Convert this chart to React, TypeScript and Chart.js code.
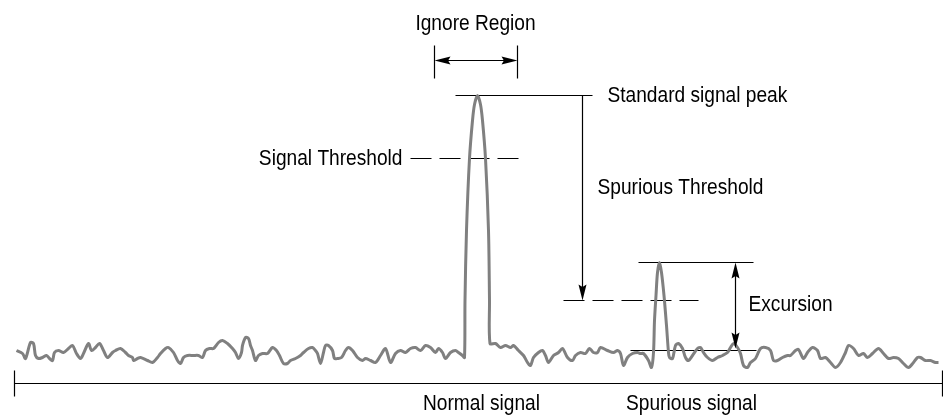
import React, { useEffect, useRef } from "react";
import { Chart, registerables } from "chart.js";

Chart.register(...registerables);

// Measured trace (frequency position, level in screen-like units, larger = lower)
const traceX = [
  16, 22, 25, 30, 33, 35, 38, 42, 46, 49, 52, 54, 58, 63, 68, 72, 76, 80, 83, 88, 91, 95, 99, 103, 107, 112, 115, 120, 125, 128, 132, 133, 137, 140, 147, 152, 157, 160, 165, 168, 173, 177, 180, 183, 187, 193, 198, 202, 205, 209, 213, 218, 222, 227, 232, 235, 238, 241, 242, 245, 248, 250, 252, 255, 258, 262, 267, 272, 276, 279, 283, 287, 290, 295, 300, 303, 308, 312, 315, 317, 320, 323, 325, 328, 332, 334, 337, 341, 345, 348, 352, 357, 362, 365, 370, 375, 380, 385, 390, 395, 400, 405, 410, 415, 420, 425, 430, 435, 438, 442, 445, 450, 455, 458, 462, 464,
  464.5, 466, 469, 472, 474, 477, 480, 482, 485, 488, 489, 489.5,
  495, 500, 505, 510, 513, 518, 523, 527, 530, 533, 538, 542, 545, 548, 553, 558, 562, 567, 572, 575, 580, 585, 589, 593, 597, 600, 607, 613, 617, 620, 623, 627, 632, 637, 640, 643, 648, 651, 653,
  654, 655.5, 657, 659, 661, 663.5, 666, 668, 669,
  672, 675, 678, 682, 685, 688, 692, 697, 700, 703, 707, 712, 717, 722, 727, 730, 733, 737, 740, 743, 747, 750, 755, 760, 765, 770, 773, 777, 782, 787, 790, 795, 798, 803, 807, 812, 817, 820, 825, 830, 835, 840, 845, 848, 853, 858, 863, 867, 872, 878, 883, 888, 893, 898, 903, 908, 913, 917, 920, 925, 930, 935, 938,
];
const traceY = [
  350, 353, 358, 342, 343, 355, 358, 357, 355, 358, 360, 352, 350, 352, 348, 345, 353, 358, 353, 343, 350, 347, 343, 350, 357, 352, 350, 348, 352, 355, 357, 360, 358, 357, 360, 362, 357, 353, 348, 347, 352, 360, 363, 357, 355, 355, 355, 357, 350, 348, 348, 342, 340, 343, 348, 352, 358, 352, 345, 337, 338, 345, 350, 360, 355, 353, 353, 347, 350, 355, 363, 363, 360, 358, 355, 352, 348, 347, 350, 353, 363, 352, 345, 345, 350, 358, 358, 357, 350, 347, 350, 357, 360, 358, 360, 362, 355, 348, 362, 353, 350, 352, 348, 347, 350, 345, 347, 352, 348, 352, 358, 352, 350, 352, 355, 357,
  300, 230, 158, 120, 104, 95, 104, 120, 158, 230, 300, 343,
  343, 347, 345, 347, 345, 350, 355, 362, 365, 357, 352, 350, 355, 362, 355, 352, 348, 357, 360, 355, 352, 353, 348, 352, 352, 347, 350, 352, 350, 353, 365, 357, 353, 352, 353, 353, 360, 367, 352,
  320, 295, 272, 262, 272, 295, 325, 352, 357,
  358, 345, 343, 348, 357, 360, 355, 348, 347, 352, 357, 360, 357, 355, 352, 347, 343, 347, 353, 365, 367, 362, 358, 348, 347, 350, 360, 360, 357, 355, 355, 350, 349, 358, 352, 347, 350, 358, 357, 362, 367, 362, 352, 345, 348, 355, 353, 357, 353, 348, 353, 358, 357, 358, 363, 367, 362, 357, 357, 360, 360, 362, 362,
];

// Reference levels
const peakLevel = 95;
const signalThreshold = 158;
const spuriousThreshold = 300;
const spurPeakLevel = 262;
const excursionBase = 350;
const axisLevel = 383;

// Horizontal spans of the reference lines
const peakLineSpan = [455, 592];
const signalThresholdSpan = [410, 518];
const spuriousThresholdSpan = [563, 698];
const spurPeakSpan = [638, 753];
const excursionBaseSpan = [630, 756];
const axisSpan = [14, 942];
const ignoreRegion = [434, 517];
const ignoreArrowLevel = 60;
const spuriousArrowX = 582;
const excursionArrowX = 735;

const labels = [
  { text: "Ignore Region", x: 475, y: 23, align: "center" },
  { text: "Standard signal peak", x: 607, y: 95, align: "left" },
  { text: "Signal Threshold", x: 402, y: 158, align: "right" },
  { text: "Spurious Threshold", x: 597, y: 187, align: "left" },
  { text: "Excursion", x: 748, y: 304, align: "left" },
  { text: "Normal signal", x: 481, y: 403, align: "center" },
  { text: "Spurious signal", x: 691, y: 403, align: "center" },
];

const FONT = "22px 'Liberation Sans', Arial, sans-serif";
const CONDENSE = 0.87;

function seg(x0: number, x1: number, y0: number, y1: number, dash: number[] = [], width = 1.2) {
  return {
    data: [
      { x: x0, y: y0 },
      { x: x1, y: y1 },
    ],
    showLine: true,
    borderColor: "#000",
    backgroundColor: "#000",
    borderWidth: width,
    borderDash: dash,
    pointRadius: 0,
    tension: 0,
  };
}

const annotatePlugin = {
  id: "annotate",
  afterDatasetsDraw(chart: any) {
    const ctx = chart.ctx;
    const xs = chart.scales.x;
    const ys = chart.scales.y;
    const px = (v: number) => xs.getPixelForValue(v);
    const py = (v: number) => ys.getPixelForValue(v);

    const arrow = (x: number, y: number, dx: number, dy: number) => {
      const len = 16;
      const half = 4;
      const bx = x - dx * len;
      const by = y - dy * len;
      const nx = -dy;
      const ny = dx;
      ctx.beginPath();
      ctx.moveTo(x, y);
      ctx.lineTo(bx + nx * half, by + ny * half);
      ctx.lineTo(x - dx * len * 0.85, y - dy * len * 0.85);
      ctx.lineTo(bx - nx * half, by - ny * half);
      ctx.closePath();
      ctx.fillStyle = "#000";
      ctx.fill();
    };

    ctx.save();
    arrow(px(spuriousArrowX), py(spuriousThreshold), 0, 1);
    arrow(px(excursionArrowX), py(spurPeakLevel), 0, -1);
    arrow(px(excursionArrowX), py(excursionBase) - 2, 0, 1);
    arrow(px(ignoreRegion[0]), py(ignoreArrowLevel), -1, 0);
    arrow(px(ignoreRegion[1]), py(ignoreArrowLevel), 1, 0);

    ctx.fillStyle = "#000";
    ctx.font = FONT;
    ctx.textBaseline = "middle";
    for (const l of labels) {
      ctx.save();
      ctx.translate(px(l.x), py(l.y));
      ctx.scale(CONDENSE, 1);
      ctx.textAlign = l.align as CanvasTextAlign;
      ctx.fillText(l.text, 0, 0);
      ctx.restore();
    }
    ctx.restore();
  },
};

export default function App() {
  const ref = useRef<HTMLCanvasElement>(null);
  useEffect(() => {
    if (!ref.current) return;
    const trace = traceX.map((x, i) => ({ x, y: traceY[i] }));
    const chart = new Chart(ref.current, {
      type: "scatter",
      data: {
        datasets: [
          {
            data: trace,
            showLine: true,
            borderColor: "rgb(128,128,128)",
            borderWidth: 3,
            pointRadius: 0,
            tension: 0.3,
          } as any,
          seg(axisSpan[0], axisSpan[1], axisLevel, axisLevel),
          seg(axisSpan[0], axisSpan[0], 370, 396),
          seg(axisSpan[1], axisSpan[1], 370, 396),
          seg(peakLineSpan[0], peakLineSpan[1], peakLevel, peakLevel),
          seg(spuriousArrowX, spuriousArrowX, peakLevel, spuriousThreshold - 10),
          seg(signalThresholdSpan[0], signalThresholdSpan[1], signalThreshold, signalThreshold, [21, 8]),
          seg(spuriousThresholdSpan[0], spuriousThresholdSpan[1], spuriousThreshold, spuriousThreshold, [21, 8]),
          seg(spurPeakSpan[0], spurPeakSpan[1], spurPeakLevel, spurPeakLevel),
          seg(excursionBaseSpan[0], excursionBaseSpan[1], excursionBase, excursionBase),
          seg(excursionArrowX, excursionArrowX, spurPeakLevel + 10, excursionBase - 12),
          seg(ignoreRegion[0], ignoreRegion[0], 45, 78),
          seg(ignoreRegion[1], ignoreRegion[1], 45, 78),
          seg(ignoreRegion[0] + 10, ignoreRegion[1] - 10, ignoreArrowLevel, ignoreArrowLevel),
        ],
      },
      options: {
        animation: false,
        responsive: false,
        events: [],
        layout: { padding: 0 },
        plugins: { legend: { display: false }, tooltip: { enabled: false } },
        scales: {
          x: { type: "linear", min: -0.5, max: 942.5, display: false },
          y: { type: "linear", min: -0.5, max: 414.5, reverse: true, display: false },
        },
      },
      plugins: [annotatePlugin],
    });
    return () => chart.destroy();
  }, []);
  return (
    <div style={{ position: "fixed", left: 0, top: 0, width: 943, height: 415, background: "#fff" }}>
      <canvas ref={ref} width={943} height={415} />
    </div>
  );
}
